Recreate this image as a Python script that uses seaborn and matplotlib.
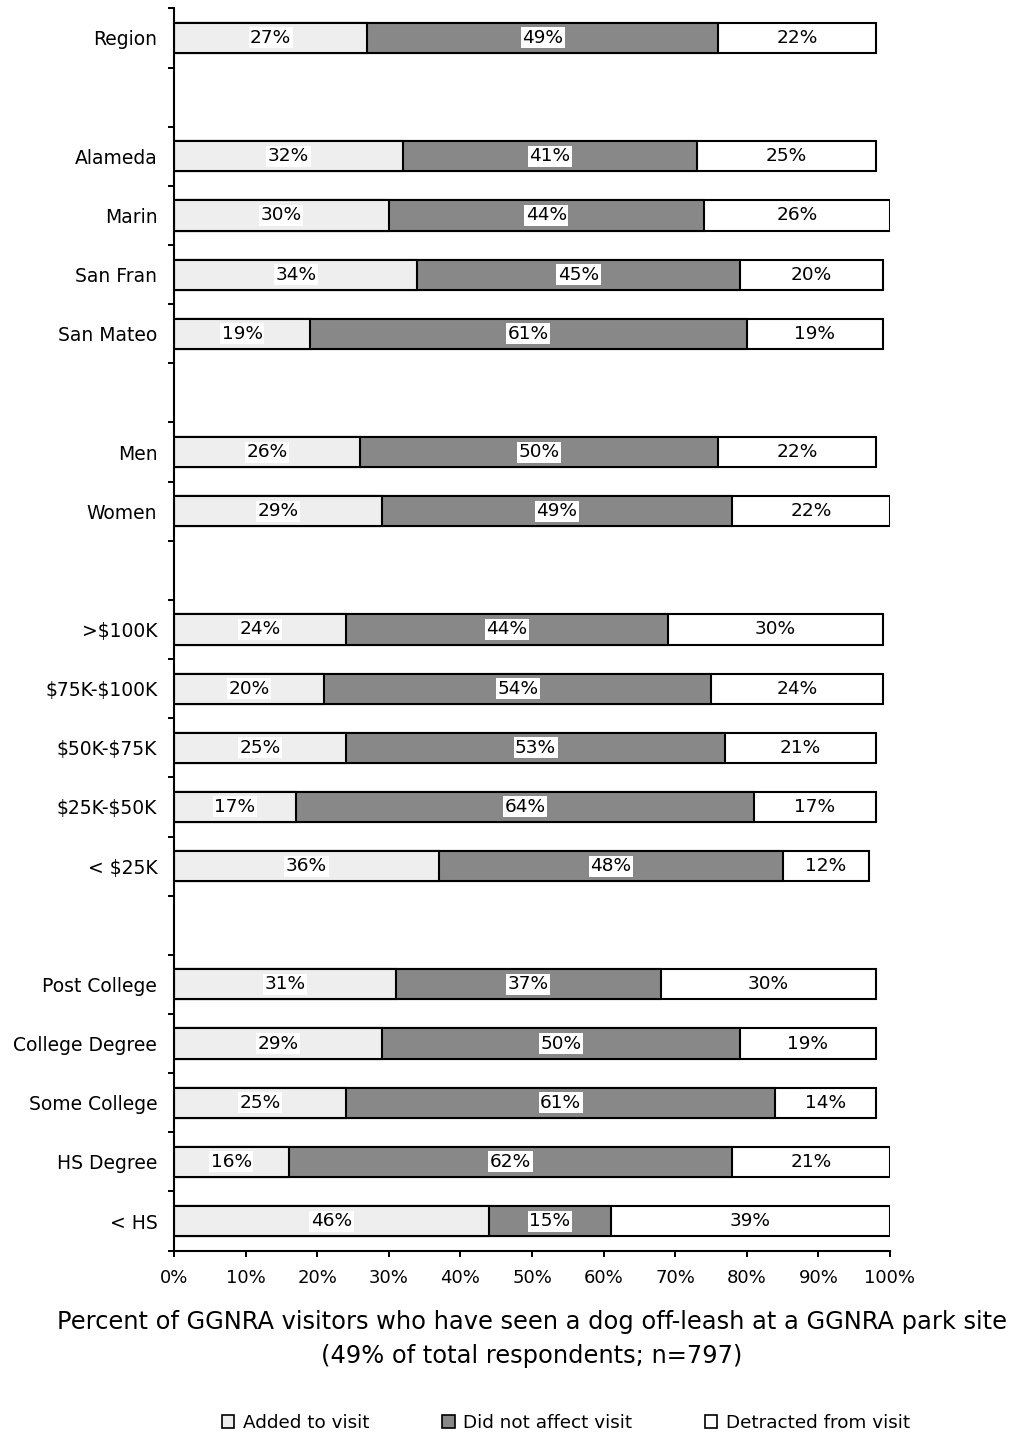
import numpy as np
import pandas as pd
import matplotlib
matplotlib.use("Agg")
import matplotlib.pyplot as plt
import seaborn as sns
from matplotlib.patches import Patch
from matplotlib.ticker import FixedLocator

# ---------------- data ----------------
groups = [
    ["Region"],
    ["Alameda", "Marin", "San Fran", "San Mateo"],
    ["Men", "Women"],
    [">$100K", "$75K-$100K", "$50K-$75K", "$25K-$50K", "< $25K"],
    ["Post College", "College Degree", "Some College", "HS Degree", "< HS"],
]
categories = [c for g in groups for c in g]

# segment lengths as drawn (percent)
added = [27, 32, 30, 34, 19, 26, 29, 24, 21, 24, 17, 37, 31, 29, 24, 16, 44]
no_effect = [49, 41, 44, 45, 61, 50, 49, 45, 54, 53, 64, 48, 37, 50, 60, 62, 17]
detracted = [22, 25, 26, 20, 19, 22, 22, 30, 24, 21, 17, 12, 30, 19, 14, 22, 39]

# printed data labels
added_lbl = [27, 32, 30, 34, 19, 26, 29, 24, 20, 25, 17, 36, 31, 29, 25, 16, 46]
no_effect_lbl = [49, 41, 44, 45, 61, 50, 49, 44, 54, 53, 64, 48, 37, 50, 61, 62, 15]
detracted_lbl = [22, 25, 26, 20, 19, 22, 22, 30, 24, 21, 17, 12, 30, 19, 14, 21, 39]

series_names = ["Added to visit", "Did not affect visit", "Detracted from visit"]
series_colors = ["#EEEEEE", "#888888", "#FFFFFF"]
legend_colors = ["#EEEEEE", "#888888", "#FFFFFF"]

x_ticks = list(range(0, 101, 10))
xlabel_line1 = "Percent of GGNRA visitors who have seen a dog off-leash at a GGNRA park site"
xlabel_line2 = "(49% of total respondents; n=797)"

# ---------------- build ----------------
order = []
for i, g in enumerate(groups):
    if i > 0:
        order.append(" " * i)
    order.extend(g)

df = pd.DataFrame({
    "cat": categories,
    "a": added,
    "b": no_effect,
    "c": detracted,
})
df["cum1"] = df["a"]
df["cum2"] = df["a"] + df["b"]
df["cum3"] = df["a"] + df["b"] + df["c"]

sns.set_style("ticks")
plt.rcParams["font.family"] = ["DejaVu Sans"]
plt.rcParams["text.parse_math"] = False
plt.rcParams["text.color"] = "black"
plt.rcParams["xtick.color"] = "black"
plt.rcParams["ytick.color"] = "black"
plt.rcParams["axes.labelcolor"] = "black"

W, H = 1011, 1437
fig = plt.figure(figsize=(W / 100, H / 100), dpi=100)
ax_left, ax_right, ax_top, ax_bot = 174, 890, 8.4, 1250.6
ax = fig.add_axes([ax_left / W, 1 - ax_bot / H, (ax_right - ax_left) / W, (ax_bot - ax_top) / H])

bar_w = 0.51
for col, color in zip(["cum3", "cum2", "cum1"], series_colors[::-1]):
    sns.barplot(data=df, y="cat", x=col, order=order, orient="h", color=color,
                saturation=1, edgecolor="black", linewidth=1.5, width=bar_w,
                ax=ax, errorbar=None)

ax.set_xlim(0, 100)
ax.set_ylim(len(order) - 0.5, -0.5)

# data labels centered in each segment
for i, row in df.iterrows():
    y = order.index(row["cat"])
    starts = [0, row["cum1"], row["cum2"]]
    lens = [row["a"], row["b"], row["c"]]
    lbls = [added_lbl[i], no_effect_lbl[i], detracted_lbl[i]]
    for s, l, t in zip(starts, lens, lbls):
        ax.text(s + l / 2, y, f"{t}%", ha="center", va="center", fontsize=13.3,
                color="black", zorder=5,
                bbox=dict(facecolor="white", edgecolor="none", pad=1.0))

# axes styling
ax.set_xticks(x_ticks)
ax.set_xticklabels([f"{v}%" for v in x_ticks], fontsize=13)
ax.tick_params(axis="x", length=4.5, width=1.4, direction="out", pad=9, colors="black")
ax.set_yticks(range(len(order)))
ax.set_yticklabels([o if o.strip() else "" for o in order], fontsize=13.5)
ax.tick_params(axis="y", which="major", length=0, pad=12, colors="black")
ax.yaxis.set_minor_locator(FixedLocator(np.arange(-0.5, len(order), 1.0)))
ax.tick_params(axis="y", which="minor", length=4.5, width=1.4, direction="out", colors="black")
ax.set_xlabel("")
ax.set_ylabel("")
for side in ["top", "right"]:
    ax.spines[side].set_visible(False)
for side in ["left", "bottom"]:
    ax.spines[side].set_linewidth(1.5)
    ax.spines[side].set_color("black")
ax.grid(False)

# x-axis title (two lines)
cx = (ax_left + ax_right) / 2 / W
fig.text(cx, 1 - 1329 / H, xlabel_line1, ha="center", va="baseline", fontsize=17.4, color="black")
fig.text(cx, 1 - 1363 / H, xlabel_line2, ha="center", va="baseline", fontsize=17.4, color="black")

# legend
handles = [Patch(facecolor=c, edgecolor="black", linewidth=1.2, label=n)
           for c, n in zip(legend_colors, series_names)]
fig.legend(handles=handles, loc="center", bbox_to_anchor=(566 / W, 1 - 1423 / H),
           ncol=3, frameon=False, fontsize=13.2, handlelength=0.66, handleheight=0.66,
           handletextpad=0.45, columnspacing=4.0, borderaxespad=0, labelcolor="black")

fig.savefig("out.png", dpi=100)
